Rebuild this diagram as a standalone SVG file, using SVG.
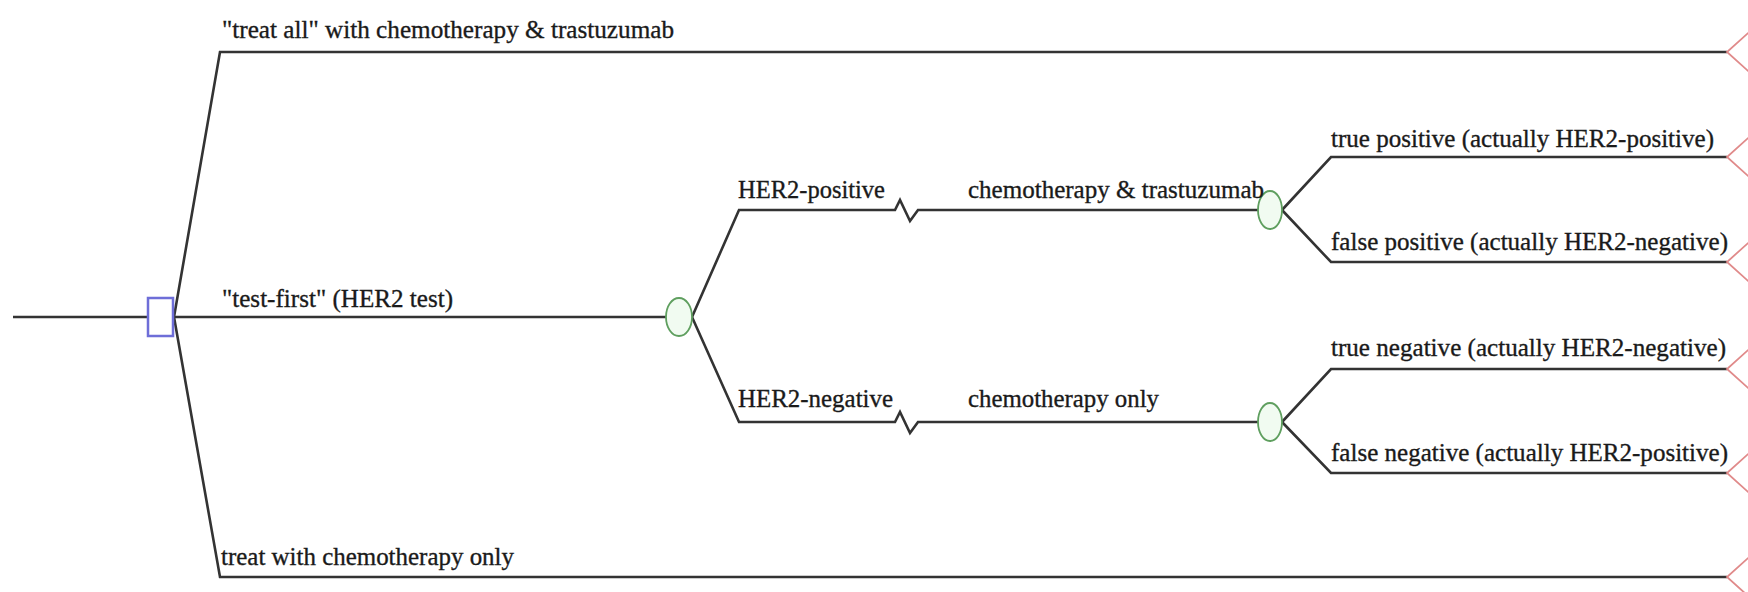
<svg xmlns="http://www.w3.org/2000/svg" width="1748" height="592" viewBox="0 0 1748 592">
<style>
.ln{fill:none;stroke:#333333;stroke-width:2.6;stroke-linejoin:miter}
.dec{fill:#ffffff;stroke:#6e6ed8;stroke-width:2.5}
.ch{fill:#f1fbf1;stroke:#5f9f5f;stroke-width:1.8}
.term{fill:none;stroke:#e08a8a;stroke-width:1.8}
.lb{font-family:"Liberation Serif","Times New Roman",serif;font-size:26px;fill:#1a1a1a;stroke:#1a1a1a;stroke-width:0.35}
</style>
<rect width="1748" height="592" fill="#ffffff"/>
<g id="connectors">
<path class="ln" d="M13,317 H148"/>
<path class="ln" d="M174,317 L220,52 H1727"/>
<path class="ln" d="M174,317 H666"/>
<path class="ln" d="M174,317 L220,577 H1727"/>
<path class="ln" d="M692,317 L739,210 H895 L900,200 L910,221 L918,210 H1258"/>
<path class="ln" d="M692,317 L739,422 H895 L900,412 L910,433 L918,422 H1258"/>
<path class="ln" d="M1282,210 L1331,157 H1727"/>
<path class="ln" d="M1282,210 L1331,262 H1727"/>
<path class="ln" d="M1282,422 L1331,369 H1727"/>
<path class="ln" d="M1282,422 L1331,473 H1727"/>
</g>
<g id="decision">
<rect class="dec" x="148" y="298" width="25" height="38"/>
</g>
<g id="chance-test">
<ellipse class="ch" cx="679" cy="317" rx="13" ry="19"/>
</g>
<g id="chance-pos">
<ellipse class="ch" cx="1270" cy="210" rx="12" ry="19"/>
</g>
<g id="chance-neg">
<ellipse class="ch" cx="1270" cy="422" rx="12" ry="19"/>
</g>
<g id="terminals">
<polyline class="term" points="1757,25 1727,52 1757,79"/>
<polyline class="term" points="1757,130 1727,157 1757,184"/>
<polyline class="term" points="1757,235 1727,262 1757,289"/>
<polyline class="term" points="1757,342 1727,369 1757,396"/>
<polyline class="term" points="1757,446 1727,473 1757,500"/>
<polyline class="term" points="1757,550 1727,577 1757,604"/>
</g>
<g id="labels">
<text class="lb" x="222" y="38" textLength="452" lengthAdjust="spacingAndGlyphs">"treat all" with chemotherapy &amp; trastuzumab</text>
<text class="lb" x="222" y="307" textLength="231" lengthAdjust="spacingAndGlyphs">"test-first" (HER2 test)</text>
<text class="lb" x="221" y="565" textLength="293" lengthAdjust="spacingAndGlyphs">treat with chemotherapy only</text>
<text class="lb" x="738" y="198" textLength="147" lengthAdjust="spacingAndGlyphs">HER2-positive</text>
<text class="lb" x="968" y="198" textLength="296" lengthAdjust="spacingAndGlyphs">chemotherapy &amp; trastuzumab</text>
<text class="lb" x="738" y="407" textLength="155" lengthAdjust="spacingAndGlyphs">HER2-negative</text>
<text class="lb" x="968" y="407" textLength="191" lengthAdjust="spacingAndGlyphs">chemotherapy only</text>
<text class="lb" x="1331" y="147" textLength="383" lengthAdjust="spacingAndGlyphs">true positive (actually HER2-positive)</text>
<text class="lb" x="1331" y="250" textLength="397" lengthAdjust="spacingAndGlyphs">false positive (actually HER2-negative)</text>
<text class="lb" x="1331" y="356" textLength="395" lengthAdjust="spacingAndGlyphs">true negative (actually HER2-negative)</text>
<text class="lb" x="1331" y="461" textLength="397" lengthAdjust="spacingAndGlyphs">false negative (actually HER2-positive)</text>
</g>
</svg>
